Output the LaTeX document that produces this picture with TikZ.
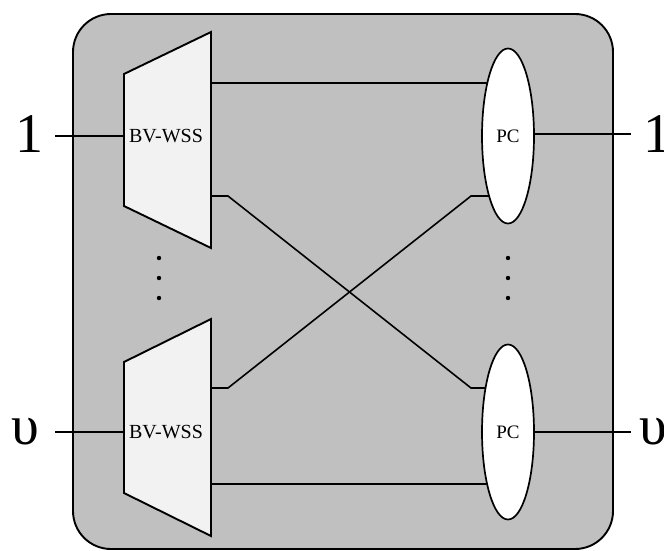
\documentclass[tikz,border=0pt]{standalone}
\usepackage{fontspec}
\setmainfont{Liberation Serif}
\usetikzlibrary{shapes.geometric,backgrounds}
\begin{document}
\begin{tikzpicture}[x=1pt,y=-1pt,
  boxline/.style={line width=1.9pt},
  wire/.style={line width=1.6pt},
  wss/.style={draw=black,line width=1.9pt,fill=wssfill,line join=miter},
  pcnode/.style={ellipse,draw=black,line width=1.7pt,fill=white,minimum width=52pt,minimum height=175pt,inner sep=0pt,font=\fontsize{19}{20}\selectfont},
  wsslabel/.style={inner sep=0pt,font=\fontsize{20}{21}\selectfont},
  biglab/.style={inner sep=0pt,font=\fontsize{56}{58}\selectfont},
  dotmark/.style={fill=black,draw=none}]
\definecolor{boxgray}{RGB}{192,192,192}
\definecolor{wssfill}{RGB}{242,242,242}
\useasboundingbox (0,0) rectangle (664,550);
% trapezoids (BV-WSS)
\draw[wss] (124,74) -- (211,32) -- (211,248) -- (124,206) -- cycle;
\draw[wss] (124,362) -- (211,319) -- (211,536) -- (124,493) -- cycle;
\node[wsslabel] (w1) at (166,136) {BV-WSS};
\node[wsslabel] (w2) at (166,432) {BV-WSS};
% ports
\coordinate (w1in) at (124,136);
\coordinate (w2in) at (124,432);
\coordinate (w1a) at (211,83);
\coordinate (w1b) at (211,196);
\coordinate (w2a) at (211,388);
\coordinate (w2b) at (211,484);
\coordinate (w1bk) at (228,196);
\coordinate (w2ak) at (228,388);
\coordinate (p1bk) at (471,196);
\coordinate (p2ak) at (471,388);
\coordinate (l1e) at (55,136);
\coordinate (lue) at (55,432);
\coordinate (r1e) at (631,134);
\coordinate (rue) at (631,432);
% PCs
\node[pcnode] (pc1) at (508,136) {PC};
\node[pcnode] (pc2) at (508,432) {PC};
% labels
\node[biglab] (l1) at (30,134) {1};
\node[biglab] (r1) at (657,134) {1};
\node[biglab] (lu) at (25,432) {υ};
\node[biglab,anchor=west] (ru) at (639,432) {υ};
% dots
\foreach \yy in {258,278,298} {
  \fill[dotmark] (159,\yy) circle (2.2pt);
  \fill[dotmark] (508,\yy) circle (2.2pt);
}
\begin{pgfonlayer}{background}
  \draw[boxline,fill=boxgray,rounded corners=38pt] (73,14) rectangle (613,549);
  \draw[wire] (l1e) -- (w1in);
  \draw[wire] (lue) -- (w2in);
  \draw[wire] (pc1.center |- r1e) -- (r1e);
  \draw[wire] (pc2.center |- rue) -- (rue);
  \draw[wire] (w1a) -- (pc1.center |- w1a);
  \draw[wire] (w2b) -- (pc2.center |- w2b);
  \draw[wire] (w1b) -- (w1bk) -- (p2ak) -- (pc2.center |- p2ak);
  \draw[wire] (w2a) -- (w2ak) -- (p1bk) -- (pc1.center |- p1bk);
\end{pgfonlayer}
\end{tikzpicture}
\end{document}
